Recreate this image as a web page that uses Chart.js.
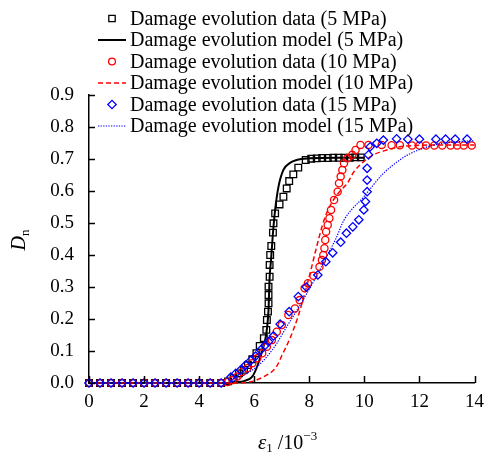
<!DOCTYPE html>
<html>
<head>
<meta charset="utf-8">
<script src="https://cdn.jsdelivr.net/npm/chart.js@4"></script>
<style>
html,body{margin:0;padding:0;background:#fff;}
#wrap{width:492px;height:455px;position:relative;}
</style>
</head>
<body>
<div id="wrap"><canvas id="c" width="492" height="455"></canvas></div>
<script>
// ---- data ----
const xTicks = [0, 2, 4, 6, 8, 10, 12, 14];
const yTicks = [0, 0.1, 0.2, 0.3, 0.4, 0.5, 0.6, 0.7, 0.8, 0.9];

const legendLabels = [
  'Damage evolution data (5 MPa)',
  'Damage evolution model (5 MPa)',
  'Damage evolution data (10 MPa)',
  'Damage evolution model (10 MPa)',
  'Damage evolution data (15 MPa)',
  'Damage evolution model (15 MPa)'
];

// 5 MPa data
const strain5 = [0,0.4,0.8,1.2,1.6,2.0,2.4,2.8,3.2,3.6,4.0,4.4,4.8,5.05,5.25,5.45,5.63,5.77,5.93,6.08,6.2,6.35,6.44,6.46,6.5,6.52,6.52,6.52,6.56,6.56,6.58,6.62,6.68,6.7,6.76,6.92,7.06,7.18,7.27,7.42,7.6,7.87,8.07,8.27,8.47,8.67,8.87,9.07,9.27,9.47,9.67,9.87];
const dn5     = [0,0,0,0,0,0,0,0,0,0,0,0,0,0.005,0.015,0.03,0.041,0.056,0.074,0.093,0.116,0.14,0.166,0.197,0.223,0.249,0.275,0.301,0.332,0.369,0.40,0.428,0.47,0.499,0.53,0.558,0.582,0.608,0.631,0.652,0.673,0.697,0.701,0.702,0.703,0.703,0.704,0.704,0.704,0.704,0.705,0.705];
// 5 MPa model
const strainM5 = [0,5.0,5.3,5.63,5.93,6.1,6.29,6.44,6.52,6.56,6.61,6.68,6.76,6.88,7.06,7.3,7.54,8.0,9.0,10.0];
const dnM5     = [0,0,0.002,0.006,0.02,0.05,0.10,0.155,0.23,0.33,0.384,0.468,0.541,0.613,0.666,0.688,0.697,0.702,0.704,0.704];

// 10 MPa data
const strain10 = [0,0.4,0.8,1.2,1.6,2.0,2.4,2.8,3.2,3.6,4.0,4.4,4.8,5.03,5.21,5.39,5.57,5.75,5.93,6.11,6.29,6.46,6.64,6.82,7.0,7.24,7.48,7.65,7.83,7.95,8.15,8.37,8.46,8.51,8.55,8.58,8.61,8.67,8.73,8.79,8.9,9.03,9.08,9.14,9.2,9.26,9.38,9.56,9.68,9.86,10.15,10.63,10.99,11.29,11.73,12.0,12.24,12.54,12.83,13.13,13.37,13.61,13.9];
const dn10     = [0,0,0,0,0,0,0,0,0,0,0,0,0,0.003,0.009,0.02,0.035,0.046,0.062,0.077,0.093,0.113,0.134,0.16,0.181,0.2125,0.233,0.259,0.296,0.312,0.335,0.363,0.384,0.40,0.421,0.447,0.473,0.494,0.515,0.541,0.572,0.598,0.624,0.645,0.666,0.687,0.702,0.713,0.728,0.744,0.744,0.744,0.743,0.743,0.742,0.742,0.742,0.742,0.742,0.742,0.742,0.742,0.742];
// 10 MPa model
const strainM10 = [0,5.3,5.87,6.35,6.8,7.0,7.3,7.6,7.85,8.05,8.25,8.45,8.65,8.9,9.15,9.38,9.62,9.98,10.33,10.81,11.29,12.0,13.0,14.0];
const dnM10     = [0,0,0.004,0.02,0.05,0.085,0.14,0.21,0.285,0.35,0.42,0.485,0.535,0.575,0.603,0.624,0.66,0.692,0.713,0.728,0.738,0.743,0.744,0.744];

// 15 MPa data
const strain15 = [0,0.4,0.8,1.2,1.6,2.0,2.4,2.8,3.2,3.6,4.0,4.4,4.8,5.15,5.33,5.51,5.69,5.87,6.05,6.23,6.4,6.52,6.7,6.94,7.27,7.6,7.89,8.31,8.6,8.85,9.14,9.35,9.58,9.8,9.98,10.04,10.1,10.1,10.1,10.15,10.21,10.45,10.69,11.17,11.58,12.0,12.6,12.95,13.3,13.73];
const dn15     = [0,0,0,0,0,0,0,0,0,0,0,0,0,0.018,0.03,0.041,0.056,0.07,0.084,0.103,0.118,0.129,0.147,0.184,0.223,0.27,0.30,0.3375,0.379,0.407,0.44,0.468,0.488,0.51,0.541,0.567,0.598,0.634,0.671,0.713,0.738,0.749,0.759,0.763,0.762,0.762,0.762,0.762,0.762,0.762];
// 15 MPa model
const strainM15 = [0,5.0,5.3,5.63,6.1,6.46,6.82,7.18,7.5,7.77,8.25,8.6,8.96,9.26,9.98,10.69,11.29,11.58,12.18,12.77,13.4,14.0];
const dnM15     = [0,0,0.008,0.025,0.051,0.082,0.124,0.176,0.22,0.259,0.332,0.39,0.45,0.509,0.582,0.655,0.697,0.713,0.735,0.748,0.754,0.757];

const pts = (xs, ys) => xs.map((x, i) => ({x: x, y: ys[i]}));

const FONT = "'Liberation Serif', 'Times New Roman', serif";

function markerDs(label, xs, ys, color, style, r, order) {
  return {label, data: pts(xs, ys), showLine: false, pointStyle: style, pointRadius: r,
    pointHoverRadius: r, pointBorderColor: color, pointBackgroundColor: 'rgba(0,0,0,0)',
    pointBorderWidth: 1.3, borderColor: color, backgroundColor: 'rgba(0,0,0,0)', order, clip: false};
}
function lineDs(label, xs, ys, color, width, dash, order) {
  return {label, data: pts(xs, ys), showLine: true, pointRadius: 0, pointHoverRadius: 0,
    borderColor: color, borderWidth: width, borderDash: dash, tension: 0.3,
    cubicInterpolationMode: 'monotone', fill: false, order, clip: false};
}

const datasets = [
  markerDs(legendLabels[0], strain5, dn5, '#000000', 'rect', 4.7, 4),
  lineDs(legendLabels[1], strainM5, dnM5, '#000000', 2, [], 5),
  markerDs(legendLabels[2], strain10, dn10, '#ff0000', 'circle', 3.6, 2),
  lineDs(legendLabels[3], strainM10, dnM10, '#ff0000', 1.5, [5, 3], 3),
  markerDs(legendLabels[4], strain15, dn15, '#0000ff', 'rectRot', 4.2, 0),
  lineDs(legendLabels[5], strainM15, dnM15, '#0000ff', 1.2, [1.3, 1.3], 1)
];

const decorations = {
  id: 'decorations',
  afterDraw(chart) {
    const ctx = chart.ctx;
    const xs = chart.scales.x, ys = chart.scales.y;
    const area = chart.chartArea;
    ctx.save();
    // inward tick marks
    ctx.strokeStyle = '#000';
    ctx.lineWidth = 1.5;
    ctx.setLineDash([]);
    xTicks.forEach(v => {
      const px = Math.round(xs.getPixelForValue(v)) + 0.5;
      ctx.beginPath(); ctx.moveTo(px, area.bottom); ctx.lineTo(px, area.bottom - 7); ctx.stroke();
    });
    yTicks.forEach(v => {
      const py = Math.round(ys.getPixelForValue(v)) + 0.5;
      ctx.beginPath(); ctx.moveTo(area.left, py); ctx.lineTo(area.left + 6, py); ctx.stroke();
    });

    // axis titles
    ctx.fillStyle = '#000';
    ctx.textBaseline = 'alphabetic';
    ctx.textAlign = 'left';
    // y title: D_n rotated
    ctx.save();
    ctx.translate(25, 240);
    ctx.rotate(-Math.PI / 2);
    ctx.font = 'italic 20px ' + FONT;
    const wD = ctx.measureText('D').width;
    ctx.font = '13px ' + FONT;
    const wn = ctx.measureText('n').width;
    const startY = -(wD + wn) / 2;
    ctx.font = 'italic 20px ' + FONT;
    ctx.fillText('D', startY, 0);
    ctx.font = '13px ' + FONT;
    ctx.fillText('n', startY + wD, 4);
    ctx.restore();

    // x title: ε1 /10^-3
    let x = 258; const by = 449;
    ctx.font = 'italic 21px ' + FONT;
    ctx.fillText('ε', x, by); x += ctx.measureText('ε').width;
    ctx.font = '13px ' + FONT;
    ctx.fillText('1', x, by + 3); x += ctx.measureText('1').width;
    ctx.font = '20px ' + FONT;
    ctx.fillText(' /10', x, by); x += ctx.measureText(' /10').width;
    ctx.font = '13px ' + FONT;
    ctx.fillText('\u22123', x, by - 9);

    // legend
    const lx0 = 98, lx1 = 126, mx = 112, tx = 130;
    const y0 = 18.5, dy = 21.5;
    ctx.font = '20px ' + FONT;
    ctx.textBaseline = 'middle';
    legendLabels.forEach((lab, i) => {
      const yy = y0 + i * dy;
      const ds = chart.data.datasets[i];
      ctx.save();
      if (ds.showLine) {
        ctx.strokeStyle = ds.borderColor;
        ctx.lineWidth = ds.borderWidth;
        ctx.setLineDash(ds.borderDash || []);
        ctx.beginPath(); ctx.moveTo(lx0, yy); ctx.lineTo(lx1, yy); ctx.stroke();
      } else {
        ctx.strokeStyle = ds.pointBorderColor;
        ctx.lineWidth = 1.3;
        ctx.beginPath();
        if (ds.pointStyle === 'rect') {
          const s = 3.2; ctx.rect(mx - s, yy - s, 2 * s, 2 * s);
        } else if (ds.pointStyle === 'circle') {
          ctx.arc(mx, yy, 3.4, 0, Math.PI * 2);
        } else {
          const r = 4.2;
          ctx.moveTo(mx - r, yy); ctx.lineTo(mx, yy - r); ctx.lineTo(mx + r, yy); ctx.lineTo(mx, yy + r); ctx.closePath();
        }
        ctx.stroke();
      }
      ctx.restore();
      ctx.fillStyle = '#000';
      ctx.fillText(lab, tx, yy + 1);
    });
    ctx.restore();
  }
};

new Chart(document.getElementById('c'), {
  type: 'scatter',
  data: {datasets},
  options: {
    responsive: false,
    animation: false,
    events: [],
    layout: {padding: {top: 95, right: 11, left: 0, bottom: 0}},
    plugins: {legend: {display: false}, tooltip: {enabled: false}, title: {display: false}},
    scales: {
      x: {
        type: 'linear', min: 0, max: 14,
        afterFit: s => { s.height = 72; },
        afterBuildTicks: s => { s.ticks = xTicks.map(v => ({value: v})); },
        ticks: {color: '#000', font: {family: FONT, size: 19}, padding: 8, maxRotation: 0,
          callback: v => String(v)},
        grid: {display: false, drawTicks: false},
        border: {display: true, color: '#000', width: 1.5}
      },
      y: {
        type: 'linear', min: 0, max: 0.9,
        afterFit: s => { s.width = 89; },
        afterBuildTicks: s => { s.ticks = yTicks.map(v => ({value: v})); },
        ticks: {color: '#000', font: {family: FONT, size: 19}, padding: 15,
          callback: v => Number(v).toFixed(1)},
        grid: {display: false, drawTicks: false},
        border: {display: true, color: '#000', width: 1.5}
      }
    }
  },
  plugins: [decorations]
});
</script>
</body>
</html>
